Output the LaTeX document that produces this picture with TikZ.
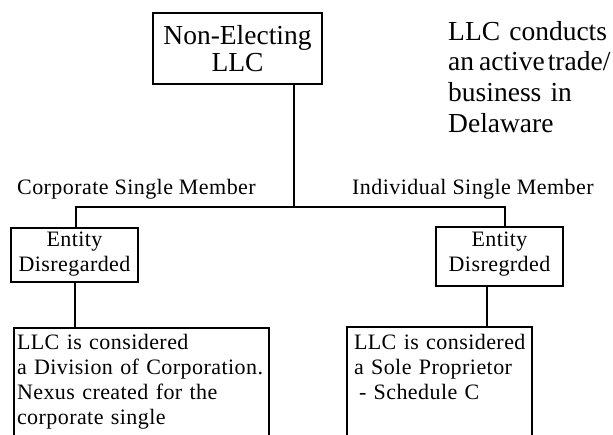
\documentclass[tikz,border=0pt]{standalone}
\usepackage{fontspec}
\setmainfont{Liberation Serif}
\newfontfamily\trackedserif[LetterSpace=2]{Liberation Serif}
\tikzset{
  box/.style={draw, line width=2pt, inner ysep=0pt},
  wire/.style={line width=2pt},
  bigfont/.style={font=\fontsize{27.5}{27}\selectfont},
  notefont/.style={font=\fontsize{27.5}{30.7}\selectfont},
  smallfont/.style={font=\trackedserif\fontsize{22}{25}\selectfont},
}

\begin{document}
\begin{tikzpicture}[x=1pt,y=-1pt]
    \useasboundingbox (0,0) rectangle (613,434);
    \clip (0,0) rectangle (613,434);

    \node[box, bigfont, anchor=north west, align=center, text width=169pt,
          inner xsep=0pt, text height=31pt, text depth=40pt] (llc) at (152,12) {Non-Electing\\LLC};
    \node[notefont, anchor=north west, align=left, text width=165pt,
          inner sep=0pt, text height=21pt] (activity) at (448,19)
          {LLC conducts\\an\hspace{5pt}active\hspace{3pt}trade/\\business in\\Delaware};

    \node[smallfont, anchor=base west, inner sep=0pt] (corpLbl) at (17,194) {Corporate Single Member};
    \node[smallfont, anchor=base west, inner sep=0pt] (indLbl) at (352,194) {Individual Single Member};

    \node[box, smallfont, anchor=north west, align=center, text width=127pt,
          inner xsep=0pt, text height=18pt, text depth=36pt] (corpEnt) at (10,227) {Entity\\Disregarded};
    \node[box, smallfont, anchor=north west, align=center, text width=127pt,
          inner xsep=0pt, text height=19pt, text depth=40pt] (indEnt) at (435,226) {Entity\\Disregrded};

    \node[box, smallfont, anchor=north west, align=left, text width=249pt,
          inner xsep=3pt, text height=21pt, text depth=130pt] (corpNote) at (13,327)
          {LLC is considered\\a Division of Corporation.\\Nexus created for the\\corporate single};
    \node[box, smallfont, anchor=north west, align=left, text width=171pt,
          inner xsep=7pt, text height=22pt, text depth=130pt] (indNote) at (346,326)
          {LLC is considered\\a Sole Proprietor\\\hspace*{5pt}- Schedule C};

    % connectors
    \coordinate (split) at (294,207);
    \coordinate (ldrop) at (76,207);
    \coordinate (rdrop) at (505,207);
    \draw[wire] (split |- llc.south) -- (split);
    \draw[wire] (ldrop |- corpEnt.north) -- (ldrop) -- (rdrop) -- (rdrop |- indEnt.north);
    \draw[wire] (corpEnt.south) -- (corpEnt.south |- corpNote.north);
    \draw[wire] ([xshift=-12.5pt]indEnt.south) -- ([xshift=-12.5pt]indEnt.south |- indNote.north);
\end{tikzpicture}
\end{document}
